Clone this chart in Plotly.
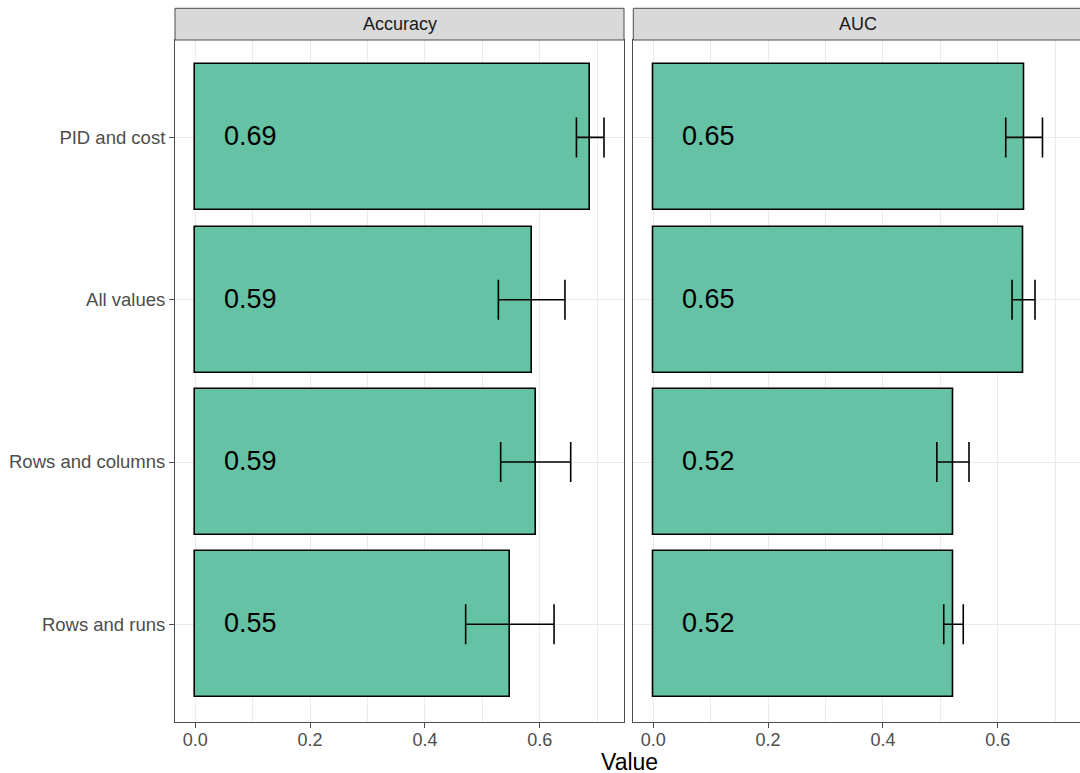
import plotly.graph_objects as go

# ---- data ----
categories = ["Rows and runs", "Rows and columns", "All values", "PID and cost"]
panels = ["Accuracy", "AUC"]
accuracy = [0.548, 0.593, 0.586, 0.688]
accuracy_err = [0.077, 0.061, 0.058, 0.024]
auc = [0.523, 0.522, 0.645, 0.646]
auc_err = [0.017, 0.028, 0.020, 0.032]
labels_acc = ["0.55", "0.59", "0.59", "0.69"]
labels_auc = ["0.52", "0.52", "0.65", "0.65"]
x_ticks = [0.0, 0.2, 0.4, 0.6]
x_ticktext = ["0.0", "0.2", "0.4", "0.6"]

# ---- geometry (pixels) ----
W, H = 1080, 773
PX_PER_UNIT = 574.0
left_panel = (175.0, 624.0)
left_zero = 195.3
right_panel = (633.3, 1080.0)
right_zero = 653.3
panel_top, panel_bottom = 40.0, 721.7
strip_top = 8.3

FONT = "Liberation Sans, Arial, Helvetica, sans-serif"
GRID = "#EBEBEB"
BORDER = "#4D4D4D"
FILL = "#66C2A5"

def rng(panel, zero):
    return [(panel[0] - zero) / PX_PER_UNIT, (panel[1] - zero) / PX_PER_UNIT]

fig = go.Figure()

data_sets = [(accuracy, accuracy_err, labels_acc), (auc, auc_err, labels_auc)]
for i, (vals, errs, labs) in enumerate(data_sets):
    xa = "x" if i == 0 else "x2"
    ya = "y" if i == 0 else "y2"
    fig.add_trace(go.Bar(
        x=vals, y=categories, orientation="h", width=0.9,
        marker=dict(color=FILL, line=dict(color="black", width=1.6)),
        error_x=dict(type="data", array=errs, visible=True, color="black",
                     thickness=1.6, width=20),
        xaxis=xa, yaxis=ya, showlegend=False, hoverinfo="skip",
    ))
    for c, t in zip(categories, labs):
        fig.add_annotation(x=0.046, y=c, xref=xa, yref=ya, text=t, showarrow=False,
                           xanchor="left", yanchor="middle", yshift=1,
                           font=dict(family=FONT, size=27, color="black"))

ydom = [(H - panel_bottom) / H, (H - panel_top) / H]

def xaxis_cfg(domain, rg, anchor):
    return dict(
        domain=domain, range=rg, anchor=anchor,
        tickvals=x_ticks, ticktext=x_ticktext, ticks="outside", ticklen=5,
        tickcolor=BORDER, tickwidth=1, showgrid=True, gridcolor=GRID, gridwidth=1.3,
        minor=dict(dtick=0.1, tick0=0.1, showgrid=True, gridcolor=GRID, gridwidth=0.8, ticks=""),
        zeroline=False, showline=True, linecolor=BORDER, linewidth=1, mirror=True,
        tickfont=dict(family=FONT, size=18, color="#4D4D4D"), ticklabelstandoff=-3,
    )

fig.update_layout(
    width=W, height=H, margin=dict(l=0, r=0, t=0, b=0),
    plot_bgcolor="white", paper_bgcolor="white", bargap=0,
    xaxis=xaxis_cfg([left_panel[0] / W, left_panel[1] / W], rng(left_panel, left_zero), "y"),
    xaxis2=xaxis_cfg([right_panel[0] / W, 1.0], rng(right_panel, right_zero), "y2"),
    yaxis=dict(domain=ydom, type="category", categoryarray=categories,
               range=[-0.6, 3.6], ticks="outside", ticklen=5, tickcolor=BORDER,
               showgrid=True, gridcolor=GRID, gridwidth=1.3, zeroline=False,
               showline=True, linecolor=BORDER, linewidth=1, mirror=True,
               tickfont=dict(family=FONT, size=18.5, color="#4D4D4D"), anchor="x"),
    yaxis2=dict(domain=ydom, type="category", categoryarray=categories,
                range=[-0.6, 3.6], ticks="", showticklabels=False,
                showgrid=True, gridcolor=GRID, gridwidth=1.3, zeroline=False,
                showline=True, linecolor=BORDER, linewidth=1, mirror=False, anchor="x2"),
)

# facet strips
for name, (x0, x1) in zip(panels, [left_panel, (right_panel[0], right_panel[1] + 2)]):
    fig.add_shape(type="rect", xref="paper", yref="paper",
                  x0=x0 / W, x1=x1 / W, y0=(H - panel_top) / H, y1=(H - strip_top) / H,
                  fillcolor="#D9D9D9", line=dict(color=BORDER, width=1), layer="above")
    cx = (left_panel[0] + left_panel[1]) / 2 if name == panels[0] else (right_panel[0] + 1082) / 2
    fig.add_annotation(xref="paper", yref="paper", x=cx / W, y=(H - (strip_top + panel_top) / 2) / H,
                       text=name, showarrow=False, xanchor="center", yanchor="middle",
                       font=dict(family=FONT, size=18, color="#1A1A1A"))

# axis title
fig.add_annotation(xref="paper", yref="paper", x=629 / W, y=(H - 762) / H, text="Value",
                   showarrow=False, xanchor="center", yanchor="middle",
                   font=dict(family=FONT, size=23, color="black"))

fig.write_html("out.html")
